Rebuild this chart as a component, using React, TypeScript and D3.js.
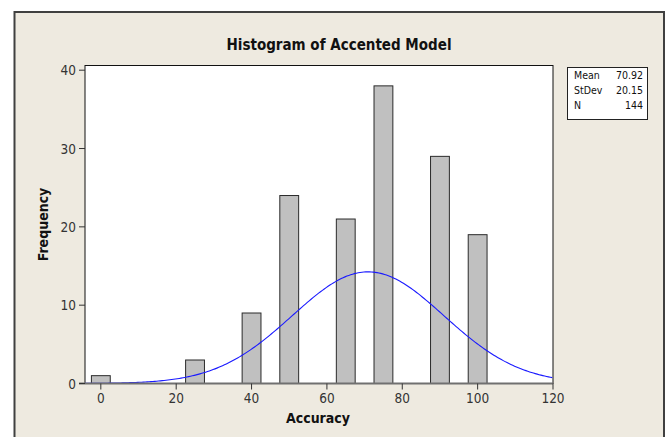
import React from "react";
import * as d3 from "d3";

// histogram data
const binCenters = [0, 25, 40, 50, 65, 75, 90, 100];
const frequencies = [1, 3, 9, 24, 21, 38, 29, 19];
const binWidth = 5;

const xTicks = [0, 20, 40, 60, 80, 100, 120];
const yTicks = [0, 10, 20, 30, 40];

const statLabels = ["Mean", "StDev", "N"];
const statValues = ["70.92", "20.15", "144"];
const mean = 70.92;
const stdev = 20.15;
const n = 144;

const W = 669;
const H = 437;
const FONT = "'DejaVu Sans Condensed', 'DejaVu Sans', Tahoma, sans-serif";

export default function App() {
  const plot = { left: 85, right: 553, top: 65.5, bottom: 383.5 };

  const x = d3.scaleLinear().domain([-4.2, 120]).range([plot.left, plot.right]);
  const y = d3.scaleLinear().domain([0, 40.6]).range([plot.bottom, plot.top]);

  // fitted normal curve from the stats shown in the legend box
  const xs = d3.range(-4.2, 120.01, 0.5);
  const scale = n * binWidth;
  const curve = xs.map((v) => [
    v,
    (scale / (stdev * Math.sqrt(2 * Math.PI))) * Math.exp(-0.5 * ((v - mean) / stdev) ** 2),
  ]);
  const line = d3
    .line<number[]>()
    .x((d) => x(d[0]))
    .y((d) => y(d[1]));

  return (
    <svg
      width={W}
      height={H}
      style={{ position: "absolute", left: 0, top: 0, background: "white" }}
    >
      {/* outer panel */}
      <rect x={14.5} y={12} width={649.5} height={440} fill="#eeeae0" stroke="#404040" strokeWidth={2} />

      <text
        x={339}
        y={50}
        textAnchor="middle"
        fontFamily={FONT}
        fontWeight="bold"
        fontSize={15}
        fill="#111"
      >
        Histogram of Accented Model
      </text>

      {/* plot area */}
      <rect
        x={plot.left}
        y={plot.top}
        width={plot.right - plot.left}
        height={plot.bottom - plot.top}
        fill="white"
        stroke="#111"
        strokeWidth={1}
      />

      {/* bars */}
      {binCenters.map((c, i) => (
        <rect
          key={i}
          x={x(c - binWidth / 2)}
          y={y(frequencies[i])}
          width={x(c + binWidth / 2) - x(c - binWidth / 2)}
          height={y(0) - y(frequencies[i])}
          fill="#c0c0c0"
          stroke="#2a2a2a"
          strokeWidth={1}
        />
      ))}

      <path d={line(curve) || ""} fill="none" stroke="#1a1aff" strokeWidth={1.1} />

      {/* x axis */}
      <line x1={79} x2={plot.right} y1={plot.bottom} y2={plot.bottom} stroke="#707070" strokeWidth={2} />
      {xTicks.map((t) => (
        <g key={t}>
          <line x1={x(t)} x2={x(t)} y1={plot.bottom} y2={plot.bottom + 6} stroke="#333" />
          <text
            x={x(t)}
            y={403}
            textAnchor="middle"
            fontFamily={FONT}
            fontSize={13.5}
            fill="#333"
          >
            {t}
          </text>
        </g>
      ))}
      <text
        x={318}
        y={423}
        textAnchor="middle"
        fontFamily={FONT}
        fontWeight="bold"
        fontSize={14}
        fill="#111"
      >
        Accuracy
      </text>

      {/* y axis */}
      {yTicks.map((t) => (
        <g key={t}>
          <line x1={plot.left - 6} x2={plot.left} y1={y(t)} y2={y(t)} stroke="#333" />
          <text
            x={76}
            y={y(t) + 5}
            textAnchor="end"
            fontFamily={FONT}
            fontSize={13.5}
            fill="#333"
          >
            {t}
          </text>
        </g>
      ))}
      <text
        transform={`translate(48,${(plot.top + plot.bottom) / 2}) rotate(-90)`}
        textAnchor="middle"
        fontFamily={FONT}
        fontWeight="bold"
        fontSize={14}
        fill="#111"
      >
        Frequency
      </text>

      {/* stats box */}
      <rect x={567.5} y={67.5} width={80} height={52} fill="white" stroke="#222" strokeWidth={1} />
      {statLabels.map((s, i) => (
        <g key={s}>
          <text x={574} y={79 + i * 15} fontFamily={FONT} fontSize={10.5} fill="#111">
            {s}
          </text>
          <text x={643} y={79 + i * 15} textAnchor="end" fontFamily={FONT} fontSize={10.5} fill="#111">
            {statValues[i]}
          </text>
        </g>
      ))}
    </svg>
  );
}
